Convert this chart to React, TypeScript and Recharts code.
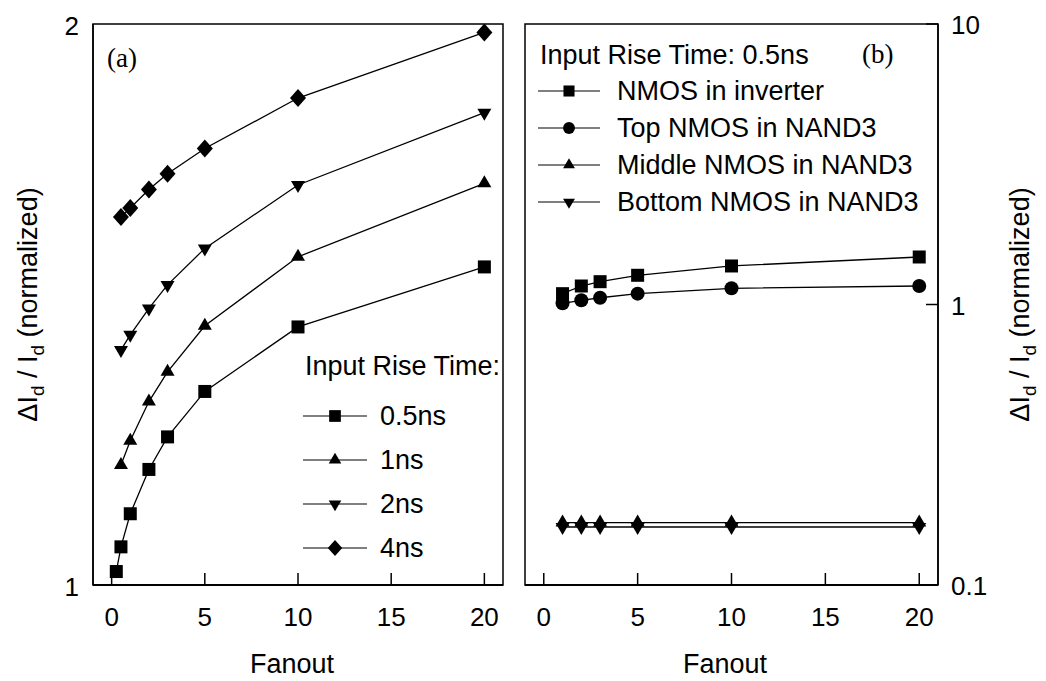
import React from "react";
import { LineChart, Line, XAxis, YAxis, ReferenceArea, Legend, Label } from "recharts";

const FONT = "'Liberation Sans', Arial, Helvetica, sans-serif";
const SERIF = "'Liberation Serif', 'Times New Roman', serif";

// (a) normalized dId/Id vs fanout, for each input rise time
const fanoutA05 = [0.25, 0.5, 1, 2, 3, 5, 10, 20];
const fanoutA = [0.5, 1, 2, 3, 5, 10, 20];
const rise05ns = [1.024, 1.068, 1.127, 1.206, 1.264, 1.345, 1.46, 1.567];
const rise1ns = [1.214, 1.257, 1.327, 1.38, 1.462, 1.585, 1.716];
const rise2ns = [1.419, 1.446, 1.493, 1.535, 1.6, 1.713, 1.842];
const rise4ns = [1.656, 1.672, 1.705, 1.733, 1.778, 1.868, 1.985];

// (b) input rise time 0.5ns, log scale
const fanoutB = [1, 2, 3, 5, 10, 20];
const nmosInverter = [1.093, 1.164, 1.206, 1.271, 1.372, 1.477];
const topNand3 = [1.01, 1.035, 1.057, 1.093, 1.142, 1.164];
const middleNand3 = [0.167, 0.167, 0.167, 0.167, 0.167, 0.167];
const bottomNand3 = [0.161, 0.161, 0.161, 0.161, 0.161, 0.161];

const xTicks = [0, 5, 10, 15, 20];
const yTicksA = [1, 2];
const yTicksB = [0.1, 1, 10];

type Shape = "square" | "circle" | "up" | "down" | "diamond";

const toPoints = (xs: number[], ys: number[]) => xs.map((x, i) => ({ x, y: ys[i] }));

const seriesA: { name: string; shape: Shape; xs: number[]; ys: number[] }[] = [
  { name: "0.5ns", shape: "square", xs: fanoutA05, ys: rise05ns },
  { name: "1ns", shape: "up", xs: fanoutA, ys: rise1ns },
  { name: "2ns", shape: "down", xs: fanoutA, ys: rise2ns },
  { name: "4ns", shape: "diamond", xs: fanoutA, ys: rise4ns },
];

const seriesB: { name: string; shape: Shape; ys: number[] }[] = [
  { name: "NMOS in inverter", shape: "square", ys: nmosInverter },
  { name: "Top NMOS in NAND3", shape: "circle", ys: topNand3 },
  { name: "Middle NMOS in NAND3", shape: "up", ys: middleNand3 },
  { name: "Bottom NMOS in NAND3", shape: "down", ys: bottomNand3 },
];

function marker(shape: Shape, cx: number, cy: number, k = 1) {
  switch (shape) {
    case "square": {
      const s = 13 * k;
      return <rect x={cx - s / 2} y={cy - s / 2} width={s} height={s} fill="#000" />;
    }
    case "circle":
      return <circle cx={cx} cy={cy} r={7 * k} fill="#000" />;
    case "up": {
      const w = 14 * k, h = 12 * k;
      return <polygon points={`${cx},${cy - h * 0.67} ${cx + w / 2},${cy + h * 0.33} ${cx - w / 2},${cy + h * 0.33}`} fill="#000" />;
    }
    case "down": {
      const w = 14 * k, h = 12 * k;
      return <polygon points={`${cx},${cy + h * 0.67} ${cx + w / 2},${cy - h * 0.33} ${cx - w / 2},${cy - h * 0.33}`} fill="#000" />;
    }
    default: {
      const w = 16 * k, h = 18 * k;
      return <polygon points={`${cx},${cy - h / 2} ${cx + w / 2},${cy} ${cx},${cy + h / 2} ${cx - w / 2},${cy}`} fill="#000" />;
    }
  }
}

const dotFor = (shape: Shape) => (p: any) => (
  <g key={`dot-${p.index}`}>{p.cx != null && p.cy != null ? marker(shape, p.cx, p.cy) : null}</g>
);

const XTick = (p: any) => (
  <g>
    <line x1={p.x} y1={p.y} x2={p.x} y2={p.y - 12} stroke="#000" strokeWidth={1.5} />
    <text x={p.x} y={p.y + 41} textAnchor="middle" fontSize={26} fontFamily={FONT} fill="#000">
      {p.payload.value}
    </text>
  </g>
);

const YTickLeft = (p: any) => (
  <text x={p.x - 14} y={p.y + 11} textAnchor="end" fontSize={26} fontFamily={FONT} fill="#000">
    {p.payload.value}
  </text>
);

const YTickRight = (p: any) => (
  <g>
    <line x1={p.x} y1={p.y} x2={p.x - 12} y2={p.y} stroke="#000" strokeWidth={1.5} />
    <text x={p.x + 13} y={p.y + 10} textAnchor="start" fontSize={26} fontFamily={FONT} fill="#000">
      {String(p.payload.value)}
    </text>
  </g>
);

function yTitle(x: number, y: number) {
  return (
    <text transform={`translate(${x},${y}) rotate(-90)`} textAnchor="middle" fontSize={27} fontFamily={FONT} fill="#000">
      ΔI<tspan dy={7} fontSize={19}>d</tspan>
      <tspan dy={-7}> / I</tspan>
      <tspan dy={7} fontSize={19}>d</tspan>
      <tspan dy={-7}> (normalized)</tspan>
    </text>
  );
}

const fanoutTitle = (x: number) => () => (
  <text x={x} y={673} textAnchor="middle" fontSize={27} fontFamily={FONT} fill="#000">
    Fanout
  </text>
);

const legendA = () => (
  <svg width={210} height={230}>
    <text x={10} y={35} fontSize={27} fontFamily={FONT} fill="#000">Input Rise Time:</text>
    {seriesA.map((s, i) => {
      const cy = 76 + i * 44;
      return (
        <g key={s.name}>
          <line x1={8} y1={cy} x2={72} y2={cy} stroke="#000" strokeWidth={1.2} />
          {marker(s.shape, 40, cy, 0.9)}
          <text x={85} y={cy + 9} fontSize={27} fontFamily={FONT} fill="#000">{s.name}</text>
        </g>
      );
    })}
  </svg>
);

const legendB = () => (
  <svg width={400} height={190}>
    <text x={10} y={29} fontSize={27} fontFamily={FONT} fill="#000">Input Rise Time: 0.5ns</text>
    {seriesB.map((s, i) => {
      const cy = 56 + i * 37;
      return (
        <g key={s.name}>
          <line x1={8} y1={cy} x2={70} y2={cy} stroke="#000" strokeWidth={1.2} />
          {marker(s.shape, 39, cy, 0.85)}
          <text x={87} y={cy + 9} fontSize={27} fontFamily={FONT} fill="#000">{s.name}</text>
        </g>
      );
    })}
  </svg>
);

export default function App() {
  return (
    <div style={{ position: "absolute", left: 0, top: 0, width: 1046, height: 681, background: "#fff" }}>
      <div style={{ position: "absolute", left: 0, top: 0 }}>
        <LineChart width={520} height={681} margin={{ top: 24, right: 17, left: 0, bottom: 36 }}>
          <XAxis
            type="number"
            dataKey="x"
            domain={[-1, 21]}
            ticks={xTicks}
            allowDataOverflow
            height={60}
            tickSize={0}
            tickMargin={0}
            tickLine={false}
            tick={XTick}
            axisLine={{ stroke: "#000", strokeWidth: 2 }}
          >
            <Label content={fanoutTitle(292)} />
          </XAxis>
          <YAxis
            type="number"
            domain={[1, 2]}
            ticks={yTicksA}
            allowDataOverflow
            width={93}
            tickSize={0}
            tickMargin={0}
            tickLine={false}
            tick={YTickLeft}
            axisLine={{ stroke: "#000", strokeWidth: 1.5 }}
          >
            <Label content={() => yTitle(37, 304.5)} />
          </YAxis>
          <ReferenceArea
            x1={-1}
            x2={21}
            y1={1}
            y2={2}
            fill="none"
            stroke="#000"
            strokeWidth={1.5}
            ifOverflow="visible"
            label={() => (
              <text x={107} y={67} fontSize={27} fontFamily={SERIF} fill="#000">(a)</text>
            )}
          />
          {seriesA.map((s) => (
            <Line
              key={s.name}
              name={s.name}
              data={toPoints(s.xs, s.ys)}
              dataKey="y"
              type="linear"
              stroke="#000"
              strokeWidth={1.3}
              dot={dotFor(s.shape)}
              activeDot={false}
              isAnimationActive={false}
            />
          ))}
          <Legend
            layout="horizontal"
            align="center"
            verticalAlign="middle"
            width={210}
            height={230}
            wrapperStyle={{ left: 295, top: 340, width: 210, height: 230 }}
            content={legendA}
          />
        </LineChart>
      </div>
      <div style={{ position: "absolute", left: 520, top: 0 }}>
        <LineChart width={526} height={681} margin={{ top: 24, right: 28, left: 5, bottom: 36 }}>
          <XAxis
            type="number"
            dataKey="x"
            domain={[-1, 21]}
            ticks={xTicks}
            allowDataOverflow
            height={60}
            tickSize={0}
            tickMargin={0}
            tickLine={false}
            tick={XTick}
            axisLine={{ stroke: "#000", strokeWidth: 2 }}
          >
            <Label content={fanoutTitle(205)} />
          </XAxis>
          <YAxis
            type="number"
            orientation="right"
            scale="log"
            domain={[0.1, 10]}
            ticks={yTicksB}
            allowDataOverflow
            width={80}
            tickSize={0}
            tickMargin={0}
            tickLine={false}
            tick={YTickRight}
            axisLine={{ stroke: "#000", strokeWidth: 1.5 }}
          >
            <Label content={() => yTitle(509, 304.5)} />
          </YAxis>
          <ReferenceArea
            x1={-1}
            x2={21}
            y1={0.1}
            y2={10}
            fill="none"
            stroke="#000"
            strokeWidth={1.5}
            ifOverflow="visible"
            label={() => (
              <text x={342} y={63} fontSize={27} fontFamily={SERIF} fill="#000">(b)</text>
            )}
          />
          {seriesB.map((s) => (
            <Line
              key={s.name}
              name={s.name}
              data={toPoints(fanoutB, s.ys)}
              dataKey="y"
              type="linear"
              stroke="#000"
              strokeWidth={1.3}
              dot={dotFor(s.shape)}
              activeDot={false}
              isAnimationActive={false}
            />
          ))}
          <Legend
            layout="horizontal"
            align="center"
            verticalAlign="middle"
            width={400}
            height={190}
            wrapperStyle={{ left: 10, top: 35, width: 400, height: 190 }}
            content={legendB}
          />
        </LineChart>
      </div>
    </div>
  );
}
